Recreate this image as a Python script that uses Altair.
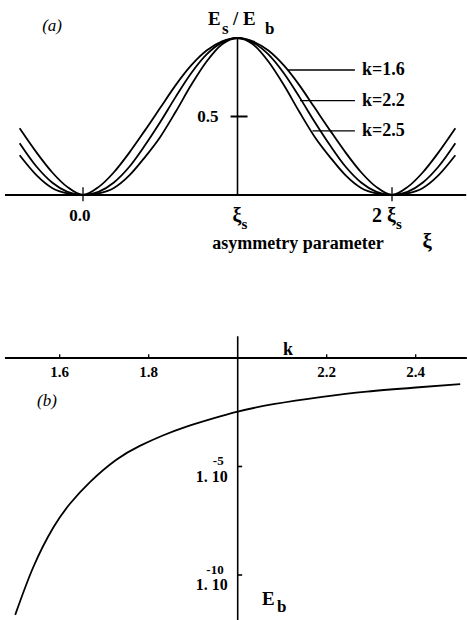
import altair as alt
import pandas as pd

# ---- panel (a): Es/Eb against the asymmetry parameter xi (in units of xi_s)
XI = [-0.41, -0.3, -0.2, -0.1, 0.0, 0.1, 0.2, 0.3, 0.4, 0.5, 0.6, 0.7, 0.8, 0.9, 1.0,
      1.1, 1.2, 1.3, 1.4, 1.5, 1.6, 1.7, 1.8, 1.9, 2.0, 2.1, 2.2, 2.3, 2.41]
ES_K16 = [0.425, 0.27, 0.145, 0.05, 0.0, 0.05, 0.145, 0.27, 0.41, 0.555, 0.70, 0.825, 0.92, 0.978, 1.0,
          0.978, 0.92, 0.825, 0.70, 0.555, 0.41, 0.27, 0.145, 0.05, 0.0, 0.05, 0.145, 0.27, 0.425]
ES_K22 = [0.33, 0.18, 0.08, 0.02, 0.0, 0.02, 0.08, 0.18, 0.315, 0.465, 0.625, 0.775, 0.895, 0.972, 1.0,
          0.972, 0.895, 0.775, 0.625, 0.465, 0.315, 0.18, 0.08, 0.02, 0.0, 0.02, 0.08, 0.18, 0.33]
ES_K25 = [0.253, 0.125, 0.045, 0.01, 0.0, 0.01, 0.045, 0.125, 0.24, 0.37, 0.53, 0.70, 0.85, 0.96, 1.0,
          0.96, 0.85, 0.70, 0.53, 0.37, 0.24, 0.125, 0.045, 0.01, 0.0, 0.01, 0.045, 0.125, 0.253]
K_LABELS = ["k=1.6", "k=2.2", "k=2.5"]
# points where each label's leader line meets its curve
LEADER_XI = [1.326, 1.405, 1.485]
LEADER_ES = [0.796, 0.601, 0.408]
XI_TICKS = [0.0, 1.0, 2.0]

# ---- panel (b): Eb against k
K = [1.50, 1.541, 1.586, 1.623, 1.668, 1.728, 1.78, 1.833, 1.885, 1.945, 2.00,
     2.08, 2.19, 2.29, 2.40, 2.50]
EB = [1.45e-12, 2.40e-10, 1.58e-8, 1.91e-7, 1.91e-6, 2.09e-5, 8.91e-5, 2.75e-4, 6.92e-4, 1.66e-3,
      3.39e-3, 7.41e-3, 1.62e-2, 2.82e-2, 4.37e-2, 6.31e-2]
K_TICKS = [1.6, 1.8, 2.2, 2.4]
EB_TICK_EXP = [-5, -10]

W, H = 467, 620
FONT = "Liberation Serif"

# both panels share one canvas; each has its own pair of scales
XA = alt.Scale(domain=[-0.5372, 2.4854], nice=False, zero=False)
YA = alt.Scale(domain=[-2.707, 1.242], nice=False, zero=False)
XB = alt.Scale(domain=[1.46584, 2.51528], nice=False, zero=False)
YB = alt.Scale(type="log", domain=[10 ** -12.074, 10 ** 16.498], nice=False)


def xa(f):
    return alt.X(f, scale=XA, axis=None)


def ya(f):
    return alt.Y(f, scale=YA, axis=None)


def xb(f):
    return alt.X(f, scale=XB, axis=None)


def yb(f):
    return alt.Y(f, scale=YB, axis=None)


def text(**kw):
    base = dict(font=FONT, fontWeight="bold", fontSize=16, color="black")
    base.update(kw)
    return base


layers = []

# ---------------- panel (a) ----------------
df_a = pd.DataFrame({
    "xi": XI * 3,
    "es": ES_K16 + ES_K22 + ES_K25,
    "k": [K_LABELS[0]] * len(XI) + [K_LABELS[1]] * len(XI) + [K_LABELS[2]] * len(XI),
})
layers.append(
    alt.Chart(df_a).mark_line(color="black", strokeWidth=1.8, interpolate="monotone")
    .encode(x=xa("xi:Q"), y=ya("es:Q"), detail="k:N")
)

# horizontal xi axis and vertical Es/Eb axis through xi_s
layers.append(
    alt.Chart(pd.DataFrame({"x": [-0.505], "x2": [2.48], "y": [0.0]}))
    .mark_rule(color="black", strokeWidth=2.2)
    .encode(x=xa("x:Q"), x2="x2:Q", y=ya("y:Q"))
)
layers.append(
    alt.Chart(pd.DataFrame({"x": [1.0], "y": [0.0], "y2": [1.0]}))
    .mark_rule(color="black", strokeWidth=1.6)
    .encode(x=xa("x:Q"), y=ya("y:Q"), y2="y2:Q")
)
# 0.5 tick crossing the vertical axis
layers.append(
    alt.Chart(pd.DataFrame({"x": [0.955], "x2": [1.065], "y": [0.5]}))
    .mark_rule(color="black", strokeWidth=2)
    .encode(x=xa("x:Q"), x2="x2:Q", y=ya("y:Q"))
)
layers.append(
    alt.Chart(pd.DataFrame({"y": [0.5], "x": [1.0], "t": ["0.5"]}))
    .mark_text(**text(align="right", baseline="middle", dx=-19, dy=1, fontSize=17))
    .encode(x=xa("x:Q"), y=ya("y:Q"), text="t:N")
)
# small ticks at 0 and 2 xi_s
layers.append(
    alt.Chart(pd.DataFrame({"x": [XI_TICKS[0], XI_TICKS[2]], "y": [-0.04, -0.04], "y2": [0.05, 0.05]}))
    .mark_rule(color="black", strokeWidth=1.3)
    .encode(x=xa("x:Q"), y=ya("y:Q"), y2="y2:Q")
)
# tick labels: 0.0, xi_s, 2 xi_s
layers.append(
    alt.Chart(pd.DataFrame({"x": [XI_TICKS[0]], "y": [0.0], "t": ["0.0"]}))
    .mark_text(**text(align="center", baseline="alphabetic", dx=-3, dy=26, fontSize=17))
    .encode(x=xa("x:Q"), y=ya("y:Q"), text="t:N")
)
layers.append(
    alt.Chart(pd.DataFrame({"x": XI_TICKS[1:], "y": [0.0, 0.0], "t": ["ξ", "2 ξ"]}))
    .mark_text(**text(align="right", baseline="alphabetic", dx=4, dy=27, fontSize=20))
    .encode(x=xa("x:Q"), y=ya("y:Q"), text="t:N")
)
layers.append(
    alt.Chart(pd.DataFrame({"x": XI_TICKS[1:], "y": [0.0, 0.0], "t": ["s", "s"]}))
    .mark_text(**text(align="left", baseline="alphabetic", dx=4, dy=34, fontSize=15))
    .encode(x=xa("x:Q"), y=ya("y:Q"), text="t:N")
)
# axis titles
layers.append(
    alt.Chart(pd.DataFrame({"x": [1.392], "y": [-0.343], "t": ["asymmetry parameter"]}))
    .mark_text(**text(align="center", baseline="alphabetic", fontSize=18))
    .encode(x=xa("x:Q"), y=ya("y:Q"), text="t:N")
)
layers.append(
    alt.Chart(pd.DataFrame({"x": [2.227], "y": [-0.335], "t": ["ξ"]}))
    .mark_text(**text(align="center", baseline="alphabetic", fontSize=21))
    .encode(x=xa("x:Q"), y=ya("y:Q"), text="t:N")
)
layers.append(
    alt.Chart(pd.DataFrame({
        "x": [0.809, 1.036, 0.971],
        "y": [1.083, 1.083, 1.083],
        "t": ["E", "E", "/"],
    }))
    .mark_text(**text(align="left", baseline="alphabetic", fontSize=19))
    .encode(x=xa("x:Q"), y=ya("y:Q"), text="t:N")
)
layers.append(
    alt.Chart(pd.DataFrame({"x": [0.9, 1.178], "y": [1.025, 1.025], "t": ["s", "b"]}))
    .mark_text(**text(align="left", baseline="alphabetic", fontSize=17))
    .encode(x=xa("x:Q"), y=ya("y:Q"), text="t:N")
)
layers.append(
    alt.Chart(pd.DataFrame({"x": [-0.2], "y": [1.045], "t": ["(a)"]}))
    .mark_text(**text(align="center", baseline="alphabetic", fontSize=17,
                      fontWeight="normal", fontStyle="italic"))
    .encode(x=xa("x:Q"), y=ya("y:Q"), text="t:N")
)
# curve labels with leader lines
df_lab = pd.DataFrame({"x": LEADER_XI, "x2": [1.76] * 3, "xl": [1.806] * 3,
                       "y": LEADER_ES, "t": K_LABELS})
layers.append(
    alt.Chart(df_lab).mark_rule(color="black", strokeWidth=1.3)
    .encode(x=xa("x:Q"), x2="x2:Q", y=ya("y:Q"))
)
layers.append(
    alt.Chart(df_lab).mark_text(**text(align="left", baseline="middle", fontSize=18))
    .encode(x=xa("xl:Q"), y=ya("y:Q"), text="t:N")
)

# ---------------- panel (b) ----------------
layers.append(
    alt.Chart(pd.DataFrame({"k": K, "eb": EB}))
    .mark_line(color="black", strokeWidth=1.8, interpolate="natural")
    .encode(x=xb("k:Q"), y=yb("eb:Q"))
)
# k axis along Eb = 1 and Eb axis through k = 2
layers.append(
    alt.Chart(pd.DataFrame({"x": [1.477], "x2": [2.515], "y": [1.0]}))
    .mark_rule(color="black", strokeWidth=2.2)
    .encode(x=xb("x:Q"), x2="x2:Q", y=yb("y:Q"))
)
layers.append(
    alt.Chart(pd.DataFrame({"x": [2.0], "y": [10.0], "y2": [10 ** -12.074]}))
    .mark_rule(color="black", strokeWidth=1.6)
    .encode(x=xb("x:Q"), y=yb("y:Q"), y2="y2:Q")
)
layers.append(
    alt.Chart(pd.DataFrame({"x": K_TICKS, "y": [1.0] * 4, "y2": [10 ** 0.17] * 4}))
    .mark_rule(color="black", strokeWidth=1.3)
    .encode(x=xb("x:Q"), y=yb("y:Q"), y2="y2:Q")
)
layers.append(
    alt.Chart(pd.DataFrame({"x": K_TICKS, "y": [1.0] * 4, "t": [f"{v:.1f}" for v in K_TICKS]}))
    .mark_text(**text(align="center", baseline="alphabetic", dy=19, fontSize=15))
    .encode(x=xb("x:Q"), y=yb("y:Q"), text="t:N")
)
eb_ticks = [10.0 ** e for e in EB_TICK_EXP]
layers.append(
    alt.Chart(pd.DataFrame({"x": [2.0, 2.0], "x2": [2.01, 2.01], "y": eb_ticks}))
    .mark_rule(color="black", strokeWidth=1.6)
    .encode(x=xb("x:Q"), x2="x2:Q", y=yb("y:Q"))
)
layers.append(
    alt.Chart(pd.DataFrame({"x": [2.0, 2.0], "y": eb_ticks, "t": ["1. 10", "1. 10"]}))
    .mark_text(**text(align="right", baseline="alphabetic", dx=-10, dy=15.5, fontSize=16))
    .encode(x=xb("x:Q"), y=yb("y:Q"), text="t:N")
)
layers.append(
    alt.Chart(pd.DataFrame({"x": [2.0, 2.0], "y": eb_ticks, "t": [str(e) for e in EB_TICK_EXP]}))
    .mark_text(**text(align="right", baseline="alphabetic", dx=-14, dy=-1, fontSize=13))
    .encode(x=xb("x:Q"), y=yb("y:Q"), text="t:N")
)
layers.append(
    alt.Chart(pd.DataFrame({"x": [2.113], "y": [10 ** 0.14], "t": ["k"]}))
    .mark_text(**text(align="center", baseline="alphabetic", fontSize=18))
    .encode(x=xb("x:Q"), y=yb("y:Q"), text="t:N")
)
layers.append(
    alt.Chart(pd.DataFrame({"x": [2.0546], "y": [10 ** -11.38], "t": ["E"]}))
    .mark_text(**text(align="left", baseline="alphabetic", fontSize=19))
    .encode(x=xb("x:Q"), y=yb("y:Q"), text="t:N")
)
layers.append(
    alt.Chart(pd.DataFrame({"x": [2.0883], "y": [10 ** -11.705], "t": ["b"]}))
    .mark_text(**text(align="left", baseline="alphabetic", fontSize=17))
    .encode(x=xb("x:Q"), y=yb("y:Q"), text="t:N")
)
layers.append(
    alt.Chart(pd.DataFrame({"x": [1.5715], "y": [10 ** -2.2], "t": ["(b)"]}))
    .mark_text(**text(align="center", baseline="alphabetic", fontSize=17,
                      fontWeight="normal", fontStyle="italic"))
    .encode(x=xb("x:Q"), y=yb("y:Q"), text="t:N")
)

chart = (
    alt.layer(*layers)
    .resolve_scale(x="independent", y="independent")
    .properties(width=W, height=H, padding=0, background="white",
                autosize=alt.AutoSizeParams(type="none"))
    .configure_view(stroke=None)
)

chart.save("out.html", embed_options={"renderer": "svg", "actions": False})
